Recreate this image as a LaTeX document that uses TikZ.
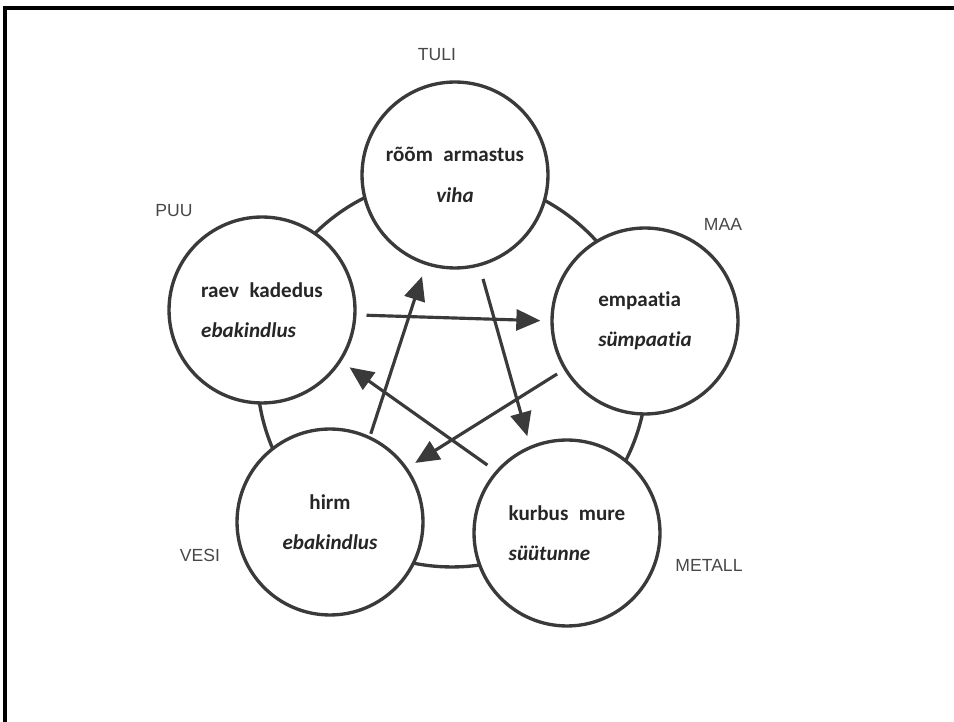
\documentclass[tikz,border=0pt]{standalone}
\usepackage{fontspec}
\setmainfont[Ligatures={NoCommon,NoRare}]{Carlito}
\newfontfamily\labelfont{Liberation Sans}
\usetikzlibrary{arrows.meta}
\definecolor{ink}{HTML}{3A3A3A}

\begin{document}
\begin{tikzpicture}[x=0.02cm,y=-0.02cm,>={Triangle[length=0.48cm,width=0.42cm]},
	element/.style={circle,draw=ink,line width=1.9pt,fill=white,minimum size=3.72cm,inner sep=0pt,
		align=left,text=black!85,font=\fontsize{12}{23}\selectfont\bfseries},
	phase/.style={text=black!72,font=\labelfont\fontsize{10}{12}\selectfont},
	flow/.style={->,draw=ink,line width=1.8pt,shorten <=0.2cm,shorten >=0.2cm}]
			\useasboundingbox (0,0) rectangle (954,722);
			% frame of the scan
			\draw[line width=2.2pt] (954,8) -- (5,8) -- (5,722);
			% cycle behind the elements
			\node[circle,draw=ink,line width=1.9pt,minimum size=7.8cm] (ring) at (452,372) {};
			\node[element,align=center] (tuli) at (455,175) {rõõm\enspace armastus\\ \textit{viha}};
			\node[element] (maa) at (645,321) {empaatia\\ \textit{sümpaatia}};
			\node[element] (metall) at (567,533) {kurbus\enspace mure\\ \textit{süütunne}};
			\node[element,align=center] (vesi) at (330,522) {hirm\\ \textit{ebakindlus}};
			\node[element] (puu) at (262,310) {raev\enspace kadedus\\ \textit{ebakindlus}};
			\node[phase] (tuliname) at (437,55) {TULI};
			\node[phase] (maaname) at (723,224) {MAA};
			\node[phase] (metallname) at (709,565) {METALL};
			\node[phase] (vesiname) at (200,555) {VESI};
			\node[phase] (puuname) at (174,211) {PUU};
			% control cycle
			\draw[flow] (puu.-3) -- (maa.180);
			\draw[flow,shorten <=0.05cm,shorten >=0.24cm] (vesi.65) -- (tuli.252);
			\draw[flow,shorten <=0.26cm] (tuli.-75) -- (metall.113);
			\draw[flow,shorten <=0.16cm,shorten >=0.18cm] (maa.211) -- (vesi.35);
			\draw[flow] (metall.139) -- (puu.-33.5);
		\end{tikzpicture}
\end{document}
